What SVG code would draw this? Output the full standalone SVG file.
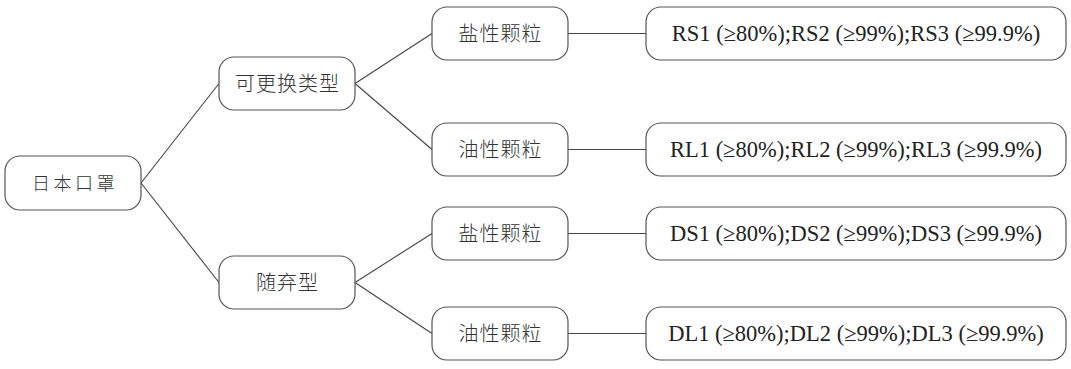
<svg xmlns="http://www.w3.org/2000/svg" width="1071" height="369" viewBox="0 0 1071 369">
<style>
rect.n{fill:#fff;stroke:#555;stroke-width:1.2}
.zh{font-family:"Noto Sans CJK SC","Noto Sans",sans-serif;font-size:20px;font-weight:300;fill:#333;text-anchor:middle;letter-spacing:1px}
.en{font-family:"Liberation Serif","Times New Roman",serif;font-size:22.5px;fill:#222;text-anchor:middle}
#connectors line{stroke:#444;stroke-width:1.1}
</style>
<rect width="1071" height="369" fill="#fff"/>
<g id="connectors">
<line x1="141" y1="183" x2="219" y2="83.5"/>
<line x1="141" y1="183" x2="219" y2="282.5"/>
<line x1="355" y1="83.5" x2="432" y2="33.5"/>
<line x1="355" y1="83.5" x2="432" y2="149.5"/>
<line x1="355" y1="282.5" x2="432" y2="233.5"/>
<line x1="355" y1="282.5" x2="432" y2="333.5"/>
<line x1="568" y1="33.5" x2="646" y2="33.5"/>
<line x1="568" y1="149.5" x2="646" y2="149.5"/>
<line x1="568" y1="233.5" x2="646" y2="233.5"/>
<line x1="568" y1="333.5" x2="646" y2="333.5"/>
</g>
<g id="root"><rect class="n" x="5" y="156" width="136" height="54" rx="15"/><text class="zh" x="75" y="190" style="font-size:18px;letter-spacing:3.5px">日本口罩</text></g>
<g id="replaceable"><rect class="n" x="219" y="57" width="136" height="53" rx="15"/><text class="zh" x="287.5" y="91">可更换类型</text></g>
<g id="disposable"><rect class="n" x="219" y="256" width="136" height="53" rx="15"/><text class="zh" x="287.5" y="290">随弃型</text></g>
<g id="r-salt"><rect class="n" x="432" y="7" width="136" height="53" rx="15"/><text class="zh" x="500.5" y="41">盐性颗粒</text></g>
<g id="r-oil"><rect class="n" x="432" y="123" width="136" height="53" rx="15"/><text class="zh" x="500.5" y="157">油性颗粒</text></g>
<g id="d-salt"><rect class="n" x="432" y="207" width="136" height="53" rx="15"/><text class="zh" x="500.5" y="241">盐性颗粒</text></g>
<g id="d-oil"><rect class="n" x="432" y="307" width="136" height="53" rx="15"/><text class="zh" x="500.5" y="341">油性颗粒</text></g>
<g id="rs"><rect class="n" x="646" y="7" width="420" height="53" rx="15"/><text class="en" x="856" y="41">RS1 (≥80%);RS2 (≥99%);RS3 (≥99.9%)</text></g>
<g id="rl"><rect class="n" x="646" y="123" width="420" height="53" rx="15"/><text class="en" x="856" y="157">RL1 (≥80%);RL2 (≥99%);RL3 (≥99.9%)</text></g>
<g id="ds"><rect class="n" x="646" y="207" width="420" height="53" rx="15"/><text class="en" x="856" y="241">DS1 (≥80%);DS2 (≥99%);DS3 (≥99.9%)</text></g>
<g id="dl"><rect class="n" x="646" y="307" width="420" height="53" rx="15"/><text class="en" x="856" y="341">DL1 (≥80%);DL2 (≥99%);DL3 (≥99.9%)</text></g>
</svg>
